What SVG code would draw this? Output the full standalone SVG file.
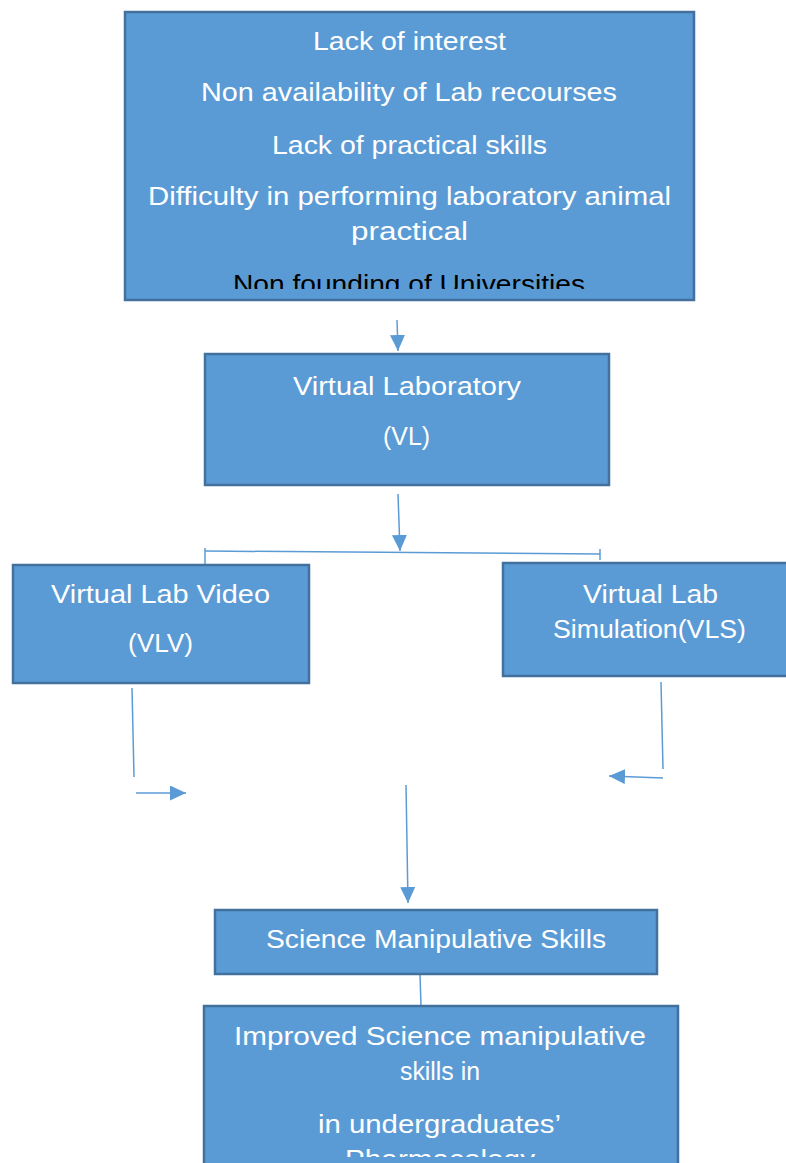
<svg xmlns="http://www.w3.org/2000/svg" width="786" height="1163" viewBox="0 0 786 1163">
<style>
.box{fill:#5B9BD5;stroke:#41719C;stroke-width:2.5}
.t{font-family:"Liberation Sans",Arial,sans-serif;font-size:25px;fill:#FFFFFF;text-anchor:middle}
.dark{fill:#000000}
.c{stroke:#5B9BD5;stroke-width:1.5;fill:none}
</style>
<defs>
<marker id="ah" markerUnits="userSpaceOnUse" markerWidth="17" markerHeight="16" refX="16" refY="7.5" orient="auto">
<path d="M0,0 L16,7.5 L0,15 Z" fill="#5B9BD5"/>
</marker>
<clipPath id="clipTop"><rect x="125" y="12" width="569" height="277"/></clipPath>
<clipPath id="clipBottom"><rect x="204" y="1006" width="474" height="151"/></clipPath>
</defs>
<rect width="786" height="1163" fill="#FFFFFF"/>
<g id="connectors">
<line class="c" x1="397" y1="320" x2="398" y2="351" marker-end="url(#ah)"/>
<line class="c" x1="398" y1="494" x2="400" y2="551" marker-end="url(#ah)"/>
<line class="c" x1="205" y1="551" x2="600" y2="554"/>
<line class="c" x1="205" y1="548" x2="205" y2="565"/>
<line class="c" x1="600" y1="549" x2="600" y2="560"/>
<line class="c" x1="132" y1="688" x2="134" y2="777"/>
<line class="c" x1="136" y1="793" x2="186" y2="793" marker-end="url(#ah)"/>
<line class="c" x1="661" y1="682" x2="663" y2="769"/>
<line class="c" x1="663" y1="778" x2="609" y2="776" marker-end="url(#ah)"/>
<line class="c" x1="406" y1="785" x2="408" y2="903" marker-end="url(#ah)"/>
<line class="c" x1="420" y1="975" x2="421" y2="1006"/>
</g>
<g id="problems">
<rect class="box" x="125" y="12" width="569" height="288"/>
<g clip-path="url(#clipTop)">
<text class="t" x="409.5" y="50" textLength="193" lengthAdjust="spacingAndGlyphs">Lack of interest</text>
<text class="t" x="409" y="101" textLength="416" lengthAdjust="spacingAndGlyphs">Non availability of Lab recourses</text>
<text class="t" x="409.5" y="154" textLength="275" lengthAdjust="spacingAndGlyphs">Lack of practical skills</text>
<text class="t" x="409.5" y="205" textLength="523" lengthAdjust="spacingAndGlyphs">Difficulty in performing laboratory animal</text>
<text class="t" x="409.5" y="240" textLength="117" lengthAdjust="spacingAndGlyphs">practical</text>
<text class="t dark" x="409" y="293" textLength="352" lengthAdjust="spacingAndGlyphs">Non founding of Universities</text>
</g>
</g>
<g id="vl">
<rect class="box" x="205" y="354" width="404" height="131"/>
<text class="t" x="407" y="395" textLength="228" lengthAdjust="spacingAndGlyphs">Virtual Laboratory</text>
<text class="t" x="406.5" y="445" textLength="47" lengthAdjust="spacingAndGlyphs">(VL)</text>
</g>
<g id="vlv">
<rect class="box" x="13" y="565" width="296" height="118"/>
<text class="t" x="160.5" y="603" textLength="219" lengthAdjust="spacingAndGlyphs">Virtual Lab Video</text>
<text class="t" x="160.5" y="652" textLength="65" lengthAdjust="spacingAndGlyphs">(VLV)</text>
</g>
<g id="vls">
<rect class="box" x="503" y="563" width="290" height="113"/>
<text class="t" x="650.5" y="603" textLength="135" lengthAdjust="spacingAndGlyphs">Virtual Lab</text>
<text class="t" x="649.5" y="638" textLength="193" lengthAdjust="spacingAndGlyphs">Simulation(VLS)</text>
</g>
<g id="sms">
<rect class="box" x="215" y="910" width="442" height="64"/>
<text class="t" x="436" y="948" textLength="340" lengthAdjust="spacingAndGlyphs">Science Manipulative Skills</text>
</g>
<g id="improved">
<rect class="box" x="204" y="1006" width="474" height="170"/>
<g clip-path="url(#clipBottom)">
<text class="t" x="440" y="1045" textLength="412" lengthAdjust="spacingAndGlyphs">Improved Science manipulative</text>
<text class="t" x="440" y="1080" textLength="80" lengthAdjust="spacingAndGlyphs">skills in</text>
<text class="t" x="439.5" y="1133" textLength="243" lengthAdjust="spacingAndGlyphs">in undergraduates’</text>
<text class="t" x="440" y="1168" textLength="190" lengthAdjust="spacingAndGlyphs">Pharmacology</text>
</g>
</g>
</svg>
